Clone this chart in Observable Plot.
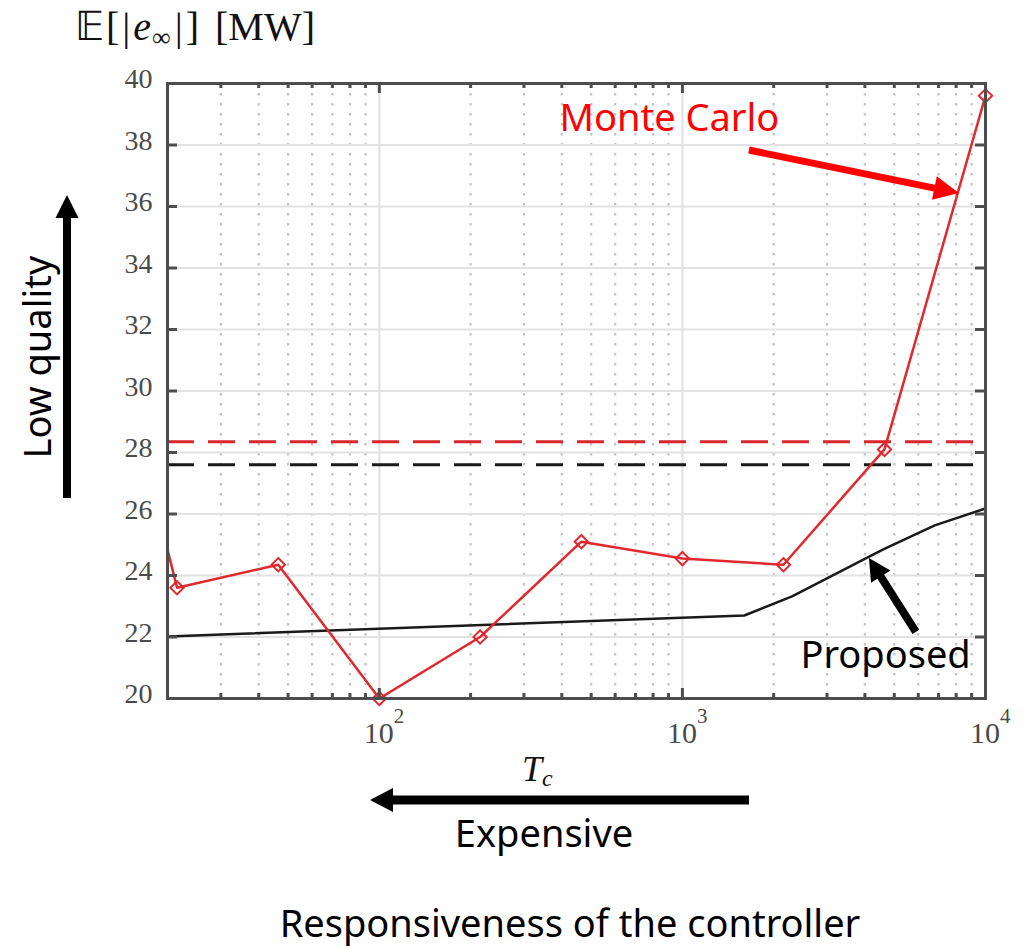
<!DOCTYPE html>
<html><head><meta charset="utf-8">
<script src="https://cdn.jsdelivr.net/npm/d3@7"></script>
<script src="https://cdn.jsdelivr.net/npm/@observablehq/plot@0.6"></script>
<style>body{margin:0;background:#fff}#chart svg{display:block}</style>
</head><body><div id="chart"></div>
<script>
// ---- data ----
const mcT = [10, 21.5, 46.4, 100, 215, 464, 1000, 2154, 4642, 10000];
const mcE = [36.8, 23.6, 24.35, 20.0, 22.0, 25.1, 24.55, 24.35, 28.1, 39.6];
const propT = [20, 1600, 2300, 3300, 4600, 6800, 10000];
const propE = [22.02, 22.7, 23.32, 24.12, 24.85, 25.63, 26.18];
const meanMC = [28.35];
const meanProp = [27.6];
const yTicks = [20, 22, 24, 26, 28, 30, 32, 34, 36, 38, 40];
const xMajor = [100, 1000, 10000];
const xMajorExp = ["2", "3", "4"];
const xMinor = [30, 40, 50, 60, 70, 80, 90, 200, 300, 400, 500, 600, 700, 800, 900, 2000, 3000, 4000, 5000, 6000, 7000, 8000, 9000];
// annotation anchors (data units)
const mcLabel = {t: 906, e: 38.44, text: "Monte Carlo"};
const mcArrow = {t1: 1664, e1: 37.82, t2: 8200, e2: 36.42};
const propLabel = {t: 4680, e: 21.0, text: "Proposed"};
const propArrow = {t1: 5915, e1: 22.15, t2: 4140, e2: 24.55};

const mc = mcT.map((t, i) => ({t, e: mcE[i]}));
const prop = propT.map((t, i) => ({t, e: propE[i]}));

const W = 1025, H = 948, mL = 167, mR = 40, mT = 83, mB = 250;
const pw = W - mL - mR, ph = H - mT - mB;
const RED = "#e0282e", DARK = "#4d4d4d", GRID = "#e2e2e2", DOT = "#c2c2c2";
const SANS = "'Noto Sans', sans-serif", SERIF = "'Liberation Serif', 'Times New Roman', serif";

const plot = Plot.plot({
  width: W, height: H,
  marginLeft: mL, marginRight: mR, marginTop: mT, marginBottom: mB,
  x: {type: "log", domain: [20, 10000], axis: null},
  y: {domain: [20, 40], axis: null},
  style: {background: "white", overflow: "visible"},
  marks: [
    Plot.ruleX(xMinor, {x: d => d, stroke: DOT, strokeWidth: 2.2, strokeDasharray: "2.5,7.5"}),
    Plot.ruleX(xMajor.slice(0, 2), {x: d => d, stroke: GRID, strokeWidth: 2.2}),
    Plot.ruleY(yTicks.slice(1, -1), {y: d => d, stroke: GRID, strokeWidth: 2.2}),
    Plot.ruleY(meanMC, {y: d => d, stroke: "#d9262c", strokeWidth: 3, strokeDasharray: "27,14"}),
    Plot.ruleY(meanProp, {y: d => d, stroke: "#1a1a1a", strokeWidth: 3, strokeDasharray: "27,14"}),
    Plot.line(prop, {x: "t", y: "e", stroke: "#1a1a1a", strokeWidth: 2.5, clip: true}),
    Plot.line(mc, {x: "t", y: "e", stroke: RED, strokeWidth: 2.5, clip: true}),
    Plot.dot(mc.filter(d => d.t >= 20), {x: "t", y: "e", symbol: "diamond2", r: 6, stroke: RED, strokeWidth: 2, fill: "none"}),
    // inner ticks
    Plot.ruleY(yTicks, {y: d => d, stroke: DARK, strokeWidth: 3, insetRight: pw - 10}),
    Plot.ruleY(yTicks, {y: d => d, stroke: DARK, strokeWidth: 3, insetLeft: pw - 10}),
    Plot.ruleX(xMinor, {x: d => d, stroke: DARK, strokeWidth: 3, insetTop: ph - 5}),
    Plot.ruleX(xMinor, {x: d => d, stroke: DARK, strokeWidth: 3, insetBottom: ph - 5}),
    Plot.ruleX(xMajor, {x: d => d, stroke: DARK, strokeWidth: 3, insetTop: ph - 10}),
    Plot.ruleX(xMajor, {x: d => d, stroke: DARK, strokeWidth: 3, insetBottom: ph - 10}),
    Plot.frame({stroke: DARK, strokeWidth: 3}),
    // y tick labels
    Plot.text(yTicks, {y: d => d, text: d => String(d), frameAnchor: "left", dx: -15, dy: -4, textAnchor: "end",
      fontSize: 28, fontFamily: SERIF, fill: "#4a4a4a"}),
    // in-plot annotations
    Plot.text([mcLabel], {x: "t", y: "e", text: "text", textAnchor: "middle", lineAnchor: "bottom", fontSize: 38, fontFamily: SANS, fill: "#ff0000"}),
    Plot.text([propLabel], {x: "t", y: "e", text: "text", textAnchor: "middle", lineAnchor: "bottom", fontSize: 38, fontFamily: SANS, fill: "#000"})
  ]
});
document.getElementById("chart").appendChild(plot);

const svg = d3.select(plot);
const xs = plot.scale("x"), ys = plot.scale("y");
const X = v => xs.apply(v), Y = v => ys.apply(v);

function arrow(x1, y1, x2, y2, shaft, headLen, headW, color) {
  const dx = x2 - x1, dy = y2 - y1, L = Math.hypot(dx, dy);
  const ux = dx / L, uy = dy / L, nx = -uy, ny = ux;
  const bx = x2 - ux * headLen, by = y2 - uy * headLen;
  const s = shaft / 2, h = headW / 2;
  const pts = [
    [x1 + nx * s, y1 + ny * s], [bx + nx * s, by + ny * s], [bx + nx * h, by + ny * h],
    [x2, y2], [bx - nx * h, by - ny * h], [bx - nx * s, by - ny * s], [x1 - nx * s, y1 - ny * s]
  ];
  svg.append("polygon").attr("points", pts.map(p => p.join(",")).join(" ")).attr("fill", color);
}

// in-plot arrows (data anchored)
arrow(X(mcArrow.t1), Y(mcArrow.e1), X(mcArrow.t2), Y(mcArrow.e2), 7, 25, 24, "#ff0000");
arrow(X(propArrow.t1), Y(propArrow.e1), X(propArrow.t2), Y(propArrow.e2), 8, 22, 23, "#000");

// x tick labels 10^k
const bottom = H - mB;
xMajor.forEach((v, i) => {
  svg.append("text").attr("x", X(v)).attr("y", bottom + 45).attr("text-anchor", "middle")
    .attr("font-family", SERIF).attr("font-size", 30).attr("fill", "#4a4a4a").text("10");
  svg.append("text").attr("x", X(v) + 15).attr("y", bottom + 25).attr("text-anchor", "start")
    .attr("font-family", SERIF).attr("font-size", 21).attr("fill", "#4a4a4a").text(xMajorExp[i]);
});

// y title
const t = svg.append("text").attr("x", 75).attr("y", 40).attr("text-anchor", "start")
  .attr("font-family", SERIF).attr("font-size", 40).attr("fill", "#111");
t.append("tspan").text("𝔼");
t.append("tspan").attr("dx", 2).text("[");
t.append("tspan").attr("dx", 3).text("|");
t.append("tspan").attr("dx", 3).attr("font-style", "italic").text("e");
t.append("tspan").attr("dx", 1).attr("font-size", 26).attr("dy", 6).text("∞");
t.append("tspan").attr("dx", 4).attr("dy", -6).text("|");
t.append("tspan").attr("dx", 3).text("]");
t.append("tspan").attr("dx", 16).text("[MW]");

// x title T_c
const tc = svg.append("text").attr("x", 522).attr("y", 781).attr("text-anchor", "start")
  .attr("font-family", SERIF).attr("font-size", 36).attr("font-style", "italic").attr("fill", "#111");
tc.append("tspan").text("T");
tc.append("tspan").attr("font-size", 24).attr("dy", 5).text("c");

// Expensive arrow + text
arrow(749, 800, 370, 800, 9, 23, 24, "#000");
svg.append("text").attr("x", 544).attr("y", 847).attr("text-anchor", "middle").attr("font-family", SANS).attr("font-size", 38).text("Expensive");

// bottom caption
svg.append("text").attr("x", 570).attr("y", 937).attr("text-anchor", "middle").attr("font-family", SANS).attr("font-size", 38).text("Responsiveness of the controller");

// Low quality
arrow(67, 498, 67, 195, 8, 23, 23, "#000");
svg.append("text").attr("transform", "translate(51,357) rotate(-90)").attr("text-anchor", "middle").attr("font-family", SANS).attr("font-size", 38).text("Low quality");
</script>
</body></html>
